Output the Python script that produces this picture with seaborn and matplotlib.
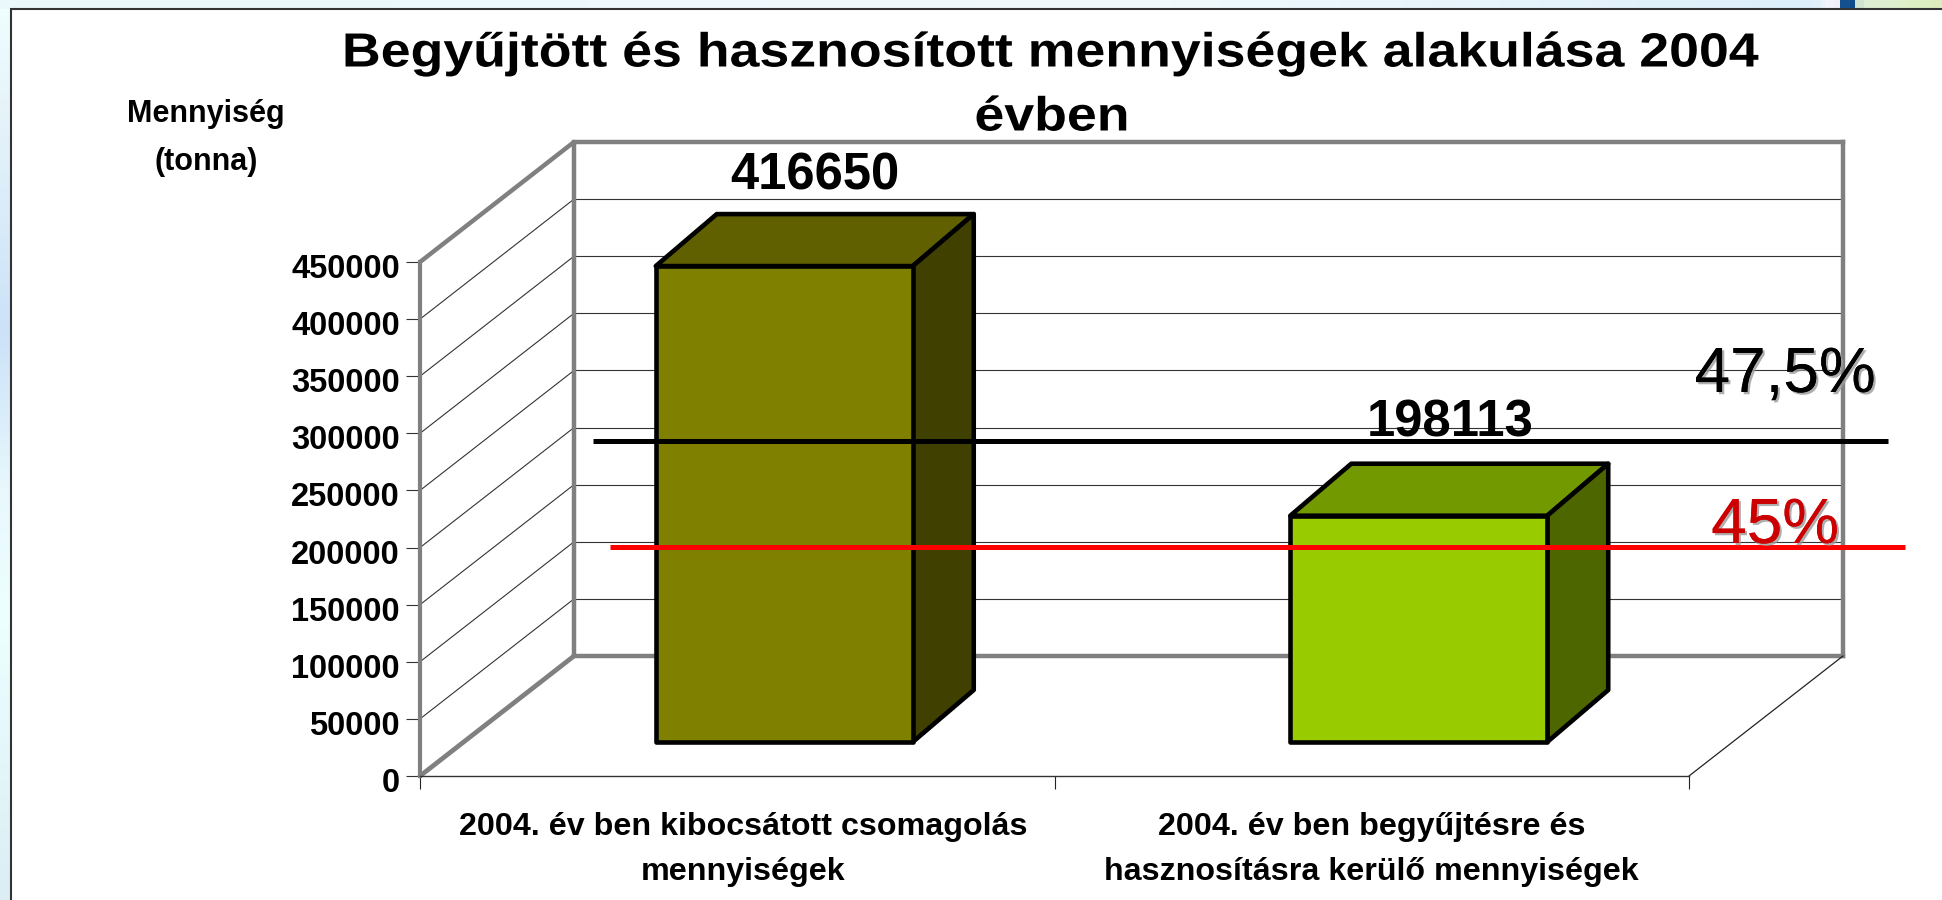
import numpy as np
import pandas as pd
import matplotlib
matplotlib.use("Agg")
import matplotlib.pyplot as plt
import matplotlib.patheffects as pe
from matplotlib.colors import LinearSegmentedColormap
from matplotlib.patches import Polygon, Rectangle
from matplotlib.transforms import Affine2D, IdentityTransform
import seaborn as sns

# ---- data ----
categories = ["2004. év ben kibocsátott csomagolás\nmennyiségek",
              "2004. év ben begyűjtésre és\nhasznosításra kerülő mennyiségek"]
values = [416650, 198113]
front_colors = ["#808000", "#99CC00"]
top_colors = ["#606000", "#739900"]
side_colors = ["#404000", "#4D6600"]
y_ticks = [0, 50000, 100000, 150000, 200000, 250000, 300000, 350000, 400000, 450000]
ref_line_values = [293000, 200500]
ref_line_spans = [(-0.227, 1.814), (-0.2, 1.84)]
ref_line_colors = ["#000000", "#FF0000"]
ref_labels = ["47,5%", "45%"]
ref_label_colors = ["#000000", "#CC0000"]
title_lines = ["Begyűjtött és hasznosított mennyiségek alakulása 2004", "évben"]
y_title = ["Mennyiség", "(tonna)"]

sns.set_theme(style="white")
plt.rcParams["font.family"] = ["Liberation Sans", "DejaVu Sans"]

W, H = 1942, 900
fig = plt.figure(figsize=(W / 100, H / 100), dpi=100, facecolor="white")


class StretchX(pe.AbstractPathEffect):
    """Widens a text horizontally about a display x, as the source's wide lettering does."""
    def __init__(self, sx, cx):
        super().__init__()
        self.sx, self.cx = sx, cx

    def draw_path(self, renderer, gc, tpath, affine, rgbFace=None):
        t = affine + Affine2D().translate(-self.cx, 0).scale(self.sx, 1).translate(self.cx, 0)
        renderer.draw_path(gc, tpath, t, rgbFace)


# ---- slide background ----
bg = fig.add_axes([0, 0, 1, 1], zorder=0)
bg.set_xlim(0, W); bg.set_ylim(H, 0); bg.axis("off")
left_cmap = LinearSegmentedColormap.from_list("l", [(0, "#EFFFFF"), (0.12, "#E6F4FA"), (0.37, "#CCE2F8"),
                                                    (0.55, "#E8F8FC"), (0.68, "#EEFFFF"), (1, "#DCEEF4")])
top_cmap = LinearSegmentedColormap.from_list("t", [(0, "#EAF8FB"), (0.6, "#F0FAFD"), (0.935, "#DDEFFA"),
                                                   (0.945, "#F3F3FB"), (0.951, "#F0F0FA"), (0.953, "#0F4C8E"),
                                                   (0.958, "#0F4C8E"), (0.961, "#DFF0D8"), (1, "#DDEEBE")])
ramp = np.linspace(0, 1, 400)
bg.imshow(ramp[:, None], cmap=left_cmap, extent=(0, 11, H, 0), aspect="auto", vmin=0, vmax=1)
bg.imshow(ramp[None, :], cmap=top_cmap, extent=(0, W, 9, 0), aspect="auto", vmin=0, vmax=1)
bg.set_xlim(0, W); bg.set_ylim(H, 0)
bg.add_patch(Rectangle((11, 9), W, H, facecolor="white", edgecolor="#333333", linewidth=1.5))

# ---- chart axes: front plane of the 3-D box ----
ax = fig.add_axes([420 / W, (H - 776) / H, 1269 / W, 514 / H], zorder=1)
ax.patch.set_alpha(0)

df = pd.DataFrame({"category": categories, "value": values})
sns.barplot(data=df, x="category", y="value", hue="category", palette=front_colors, width=0.405,
            saturation=1, dodge=False, edgecolor="black", linewidth=3.3, legend=False, ax=ax)
ax.set_xlim(-0.5, 1.5)
ax.set_ylim(0, 450000)
ax.set_xlabel(""); ax.set_ylabel("")

WALL_D = (154, 120)     # depth of the box, in pixels
BAR_SHIFT = (47, 34)    # bars stand inside the box
BAR_D = (61, 52)        # depth of each bar
GRID = "#333333"
FRAME = "#808080"
ident = IdentityTransform()


def disp(x, y, off=(0, 0)):
    p = ax.transData.transform((x, y))
    return p[0] + off[0], p[1] + off[1]


def seg(a, b, **kw):
    ax.add_line(plt.Line2D([a[0], b[0]], [a[1], b[1]], transform=ident, clip_on=False, **kw))


# wall gridlines
for v in y_ticks[1:-1]:
    seg(disp(-0.5, v), disp(-0.5, v, WALL_D), color=GRID, lw=0.8, zorder=1)
    seg(disp(-0.5, v, WALL_D), disp(1.5, v, WALL_D), color=GRID, lw=0.8, zorder=1)

# wall frame
seg(disp(-0.5, 450000), disp(-0.5, 450000, WALL_D), color=FRAME, lw=3.2, zorder=1.2)
seg(disp(-0.5, 0), disp(-0.5, 0, WALL_D), color=FRAME, lw=3.4, zorder=1.2)
seg(disp(-0.5, 0, WALL_D), disp(-0.5, 450000, WALL_D), color=FRAME, lw=3.2, zorder=1.2)
seg(disp(-0.5, 450000, WALL_D), disp(1.5, 450000, WALL_D), color=FRAME, lw=3.2, zorder=1.2, solid_capstyle="projecting")
seg(disp(1.5, 450000, WALL_D), disp(1.5, 0, WALL_D), color=FRAME, lw=3.2, zorder=1.2, solid_capstyle="projecting")
seg(disp(-0.5, 0, WALL_D), disp(1.5, 0, WALL_D), color=FRAME, lw=3.2, zorder=1.2, solid_capstyle="projecting")
seg(disp(1.5, 0), disp(1.5, 0, WALL_D), color="#222222", lw=0.9, zorder=1.2)

# bars: seaborn's rectangles, moved into the box, with their top and side faces
bars = list(ax.patches)
label_lift = [38, 41]
for i, bar in enumerate(bars):
    bar.set_transform(ax.transData + Affine2D().translate(*BAR_SHIFT))
    bar.set_clip_on(False)
    bar.set_zorder(3)
    bar.set_joinstyle("round")
    x0, x1 = bar.get_x(), bar.get_x() + bar.get_width()
    h = bar.get_height()
    fl = disp(x0, h, BAR_SHIFT); fr = disp(x1, h, BAR_SHIFT); br = disp(x1, 0, BAR_SHIFT)
    shift = lambda p: (p[0] + BAR_D[0], p[1] + BAR_D[1])
    ax.add_patch(Polygon([fl, fr, shift(fr), shift(fl)], closed=True, transform=ident, clip_on=False,
                         facecolor=top_colors[i], edgecolor="black", linewidth=3.3, joinstyle="round", zorder=2.6))
    ax.add_patch(Polygon([fr, br, shift(br), shift(fr)], closed=True, transform=ident, clip_on=False,
                         facecolor=side_colors[i], edgecolor="black", linewidth=3.3, joinstyle="round", zorder=2.6))
    tx, ty = disp((x0 + x1) / 2, h, BAR_SHIFT)
    ax.text(tx + 31, ty + BAR_D[1] + label_lift[i], f"{values[i]}", transform=ident, ha="center", va="center",
            fontsize=36.5, fontweight="bold", color="black", zorder=6, clip_on=False)

# reference lines and their labels
for v, span, c in zip(ref_line_values, ref_line_spans, ref_line_colors):
    ax.plot(span, [v, v], color=c, lw=3.6, clip_on=False, zorder=5, solid_capstyle="butt")
shadow = [pe.withSimplePatchShadow(offset=(1.6, -1.6), shadow_rgbFace="#9A9A9A", alpha=0.8), pe.Normal()]
ref_label_pos = [(1785, 375), (1775, 526)]
for txt, c, (px, py) in zip(ref_labels, ref_label_colors, ref_label_pos):
    fig.text(px / W, 1 - py / H, txt, color=c, fontsize=46, ha="center", va="center",
             path_effects=shadow, zorder=7)

# axes styling
for s in ("top", "right"):
    ax.spines[s].set_visible(False)
ax.spines["left"].set_color(FRAME)
ax.spines["left"].set_linewidth(3)
ax.spines["bottom"].set_color("#333333")
ax.spines["bottom"].set_linewidth(1.0)
ax.set_yticks(y_ticks)
ax.set_yticklabels([str(t) for t in y_ticks], fontsize=23.5, fontweight="bold", color="black")
ax.tick_params(axis="y", left=True, length=10, width=0.8, color="#333333", pad=4.5)
for lbl in ax.get_yticklabels():
    lbl.set_transform(lbl.get_transform() + Affine2D().translate(0, -4))

ax.set_xticks([-0.5, 0.5, 1.5])
ax.set_xticklabels(["", "", ""])
ax.tick_params(axis="x", bottom=True, length=9.5, width=0.8, color="#222222")
ax.set_xticks([0, 1], labels=categories, minor=True)
ax.tick_params(axis="x", which="minor", bottom=False, pad=22, labelsize=23.2)
for i, lbl in enumerate(ax.get_xticklabels(minor=True)):
    lbl.set_fontweight("bold")
    lbl.set_linespacing(1.65)
    lbl.set_color("black")
    lbl.set_multialignment("center")
    if i == 0:
        lbl.set_transform(lbl.get_transform() + Affine2D().translate(6, 0))

# titles
title_pos = [(1050, 54), (1052, 118)]
for txt, (px, py) in zip(title_lines, title_pos):
    fig.text(px / W, 1 - py / H, txt, fontsize=34.5, fontweight="bold", ha="center", va="center", color="black",
             zorder=7, path_effects=[StretchX(1.12, px)])
ytitle_pos = [(206, 114), (206, 162)]
for txt, (px, py) in zip(y_title, ytitle_pos):
    fig.text(px / W, 1 - py / H, txt, fontsize=22, fontweight="bold", ha="center", va="center", color="black", zorder=7)

fig.savefig("out.png", dpi=100, facecolor="white")
